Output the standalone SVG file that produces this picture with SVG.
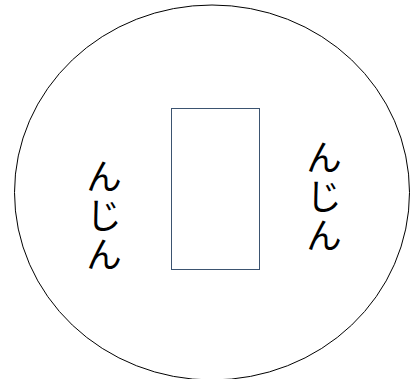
<svg xmlns="http://www.w3.org/2000/svg" width="415" height="379" viewBox="0 0 415 379">
<style>
.t{font-family:"Noto Sans CJK JP","Noto Sans CJK SC",sans-serif;font-size:36px;fill:#000;writing-mode:vertical-rl;letter-spacing:3px}
</style>
<rect width="415" height="379" fill="#fff"/>
<g id="circle"><ellipse cx="212" cy="192.5" rx="197.5" ry="187.5" fill="#fff" stroke="#000" stroke-width="1"/></g>
<g id="box"><rect x="171.5" y="108.5" width="88" height="161" fill="#fff" stroke="#3b5370" stroke-width="1"/></g>
<g id="left-text"><text class="t" x="104" y="158">んじん</text></g>
<g id="right-text"><text class="t" x="324" y="139">んじん</text></g>
<g id="connectors"></g>
</svg>
